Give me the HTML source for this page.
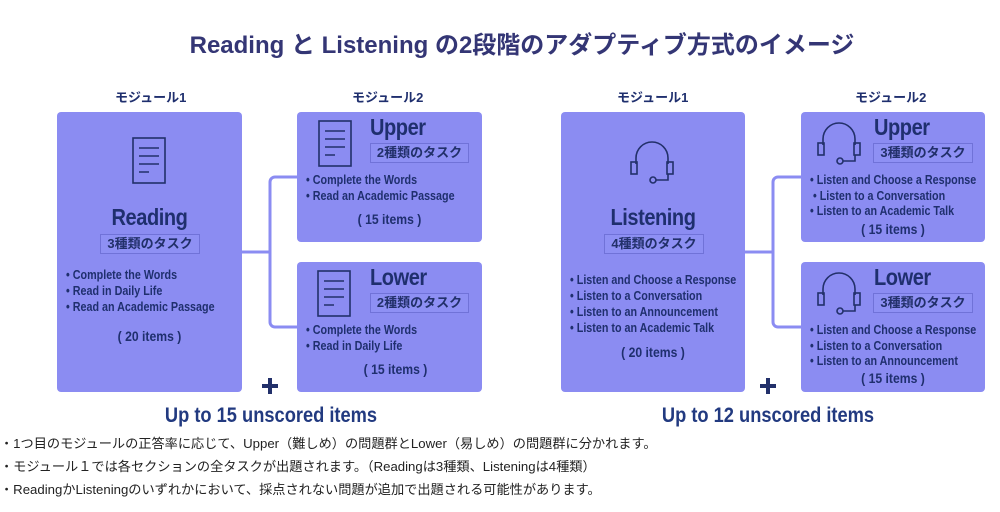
<!DOCTYPE html>
<html><head><meta charset="utf-8"><style>
body{margin:0;width:1000px;height:512px;background:#fff;position:relative;overflow:hidden;font-family:"Liberation Sans","Noto Sans CJK JP",sans-serif;color:#1f2f6e}
.a{position:absolute;white-space:nowrap}
.box{position:absolute;background:#8b8cf2;border-radius:4px}
.n{font-family:"Liberation Sans","Noto Sans CJK JP",sans-serif;font-weight:bold}
.li{font-size:12.5px;line-height:16px;transform:scaleX(0.86);transform-origin:0 0}
.tag{position:absolute;border:1px solid #7072d8;background:#8e90f4;font-family:"Liberation Sans","Noto Sans CJK JP",sans-serif;font-weight:bold;font-size:13px;text-align:center;line-height:18px;color:#22306a}
.h{font-size:23px;letter-spacing:-0.5px;transform:scaleX(0.87);transform-origin:0 0}
.c{text-align:center;transform:scaleX(0.87);transform-origin:50% 0}
.note{font-size:13.2px;color:#222;font-family:"Liberation Sans","Noto Sans CJK JP",sans-serif}
</style></head><body>
<div class="a" style="left:0;width:1044px;top:25px;text-align:center;font-size:24px;font-weight:bold;color:#343675">Reading と Listening の2段階のアダプティブ方式のイメージ</div>

<div class="a n" style="left:115px;top:87px;font-size:13px">モジュール1</div>
<div class="a n" style="left:352px;top:87px;font-size:13px">モジュール2</div>
<div class="a n" style="left:617px;top:87px;font-size:13px">モジュール1</div>
<div class="a n" style="left:855px;top:87px;font-size:13px">モジュール2</div>

<svg class="a" style="left:0;top:0" width="1000" height="512">
<g fill="none" stroke="#8b8cf2" stroke-width="3">
<path d="M242 252H270V182a5 5 0 0 1 5-5H297M270 252V322a5 5 0 0 0 5 5H297"/>
<path d="M745 252H773V182a5 5 0 0 1 5-5H801M773 252V322a5 5 0 0 0 5 5H801"/>
</g>
</svg>

<div class="box" style="left:57px;top:112px;width:185px;height:280px"></div>
<div class="box" style="left:297px;top:112px;width:185px;height:130px"></div>
<div class="box" style="left:297px;top:262px;width:185px;height:130px"></div>
<div class="box" style="left:561px;top:112px;width:184px;height:280px"></div>
<div class="box" style="left:801px;top:112px;width:184px;height:130px"></div>
<div class="box" style="left:801px;top:262px;width:184px;height:130px"></div>

<svg class="a" style="left:0;top:0" width="1000" height="512">
<defs>
<g id="doc" fill="none" stroke="#22306a" stroke-width="1.6"><rect x="0" y="0" width="32" height="45"/><path d="M6 10H26M6 18H26M6 26H26M6 34H16"/></g>
<g id="hp" fill="none" stroke="#22306a" stroke-width="1.6"><path d="M7 26V20a16 16 0 0 1 32 0V26"/><rect x="2" y="24" width="6" height="12"/><rect x="38" y="24" width="6" height="12"/><path d="M39 36V42H27"/><circle cx="24" cy="42" r="3"/></g>
</defs>
<use href="#doc" x="133" y="138"/>
<use href="#doc" x="319" y="121"/>
<use href="#doc" x="318" y="271"/>
<use href="#hp" x="629" y="138"/>
<use href="#hp" x="816" y="119"/>
<use href="#hp" x="816" y="269"/>
<g fill="#22306a"><rect x="262" y="384" width="16" height="4"/><rect x="268" y="378" width="4" height="16"/><rect x="760" y="384" width="16" height="4"/><rect x="766" y="378" width="4" height="16"/></g>
</svg>

<div class="a n c" style="left:57px;width:185px;top:204px;font-size:23px;letter-spacing:-0.5px">Reading</div>
<div class="tag" style="left:100px;top:234px;width:98px">3種類のタスク</div>
<div class="a n li" style="left:66px;top:267px">• Complete the Words<br>• Read in Daily Life<br>• Read an Academic Passage</div>
<div class="a n c" style="left:57px;width:185px;top:328px;font-size:14px">( 20 items )</div>

<div class="a n h" style="left:370px;top:114px">Upper</div>
<div class="tag" style="left:370px;top:143px;width:97px">2種類のタスク</div>
<div class="a n li" style="left:306px;top:172px">• Complete the Words<br>• Read an Academic Passage</div>
<div class="a n c" style="left:297px;width:185px;top:211px;font-size:14px">( 15 items )</div>

<div class="a n h" style="left:370px;top:264px">Lower</div>
<div class="tag" style="left:370px;top:293px;width:97px">2種類のタスク</div>
<div class="a n li" style="left:306px;top:322px">• Complete the Words<br>• Read in Daily Life</div>
<div class="a n c" style="left:303px;width:185px;top:361px;font-size:14px">( 15 items )</div>

<div class="a n c" style="left:561px;width:184px;top:204px;font-size:23px;letter-spacing:-0.5px">Listening</div>
<div class="tag" style="left:604px;top:234px;width:98px">4種類のタスク</div>
<div class="a n li" style="left:570px;top:272px">• Listen and Choose a Response<br>• Listen to a Conversation<br>• Listen to an Announcement<br>• Listen to an Academic Talk</div>
<div class="a n c" style="left:561px;width:184px;top:344px;font-size:14px">( 20 items )</div>

<div class="a n h" style="left:874px;top:114px">Upper</div>
<div class="tag" style="left:873px;top:143px;width:98px">3種類のタスク</div>
<div class="a n li" style="left:810px;top:173px;line-height:15.5px">• Listen and Choose a Response<br>&nbsp;• Listen to a Conversation<br>• Listen to an Academic Talk</div>
<div class="a n c" style="left:801px;width:184px;top:221px;font-size:14px">( 15 items )</div>

<div class="a n h" style="left:874px;top:264px">Lower</div>
<div class="tag" style="left:873px;top:293px;width:98px">3種類のタスク</div>
<div class="a n li" style="left:810px;top:323px;line-height:15.5px">• Listen and Choose a Response<br>• Listen to a Conversation<br>• Listen to an Announcement</div>
<div class="a n c" style="left:801px;width:184px;top:370px;font-size:14px">( 15 items )</div>

<div class="a n c" style="left:121px;width:300px;top:404px;font-size:21px;color:#223a80">Up to 15 unscored items</div>
<div class="a n c" style="left:618px;width:300px;top:404px;font-size:21px;color:#223a80">Up to 12 unscored items</div>

<div class="a note" style="left:0;top:433px">・1つ目のモジュールの正答率に応じて、Upper（難しめ）の問題群とLower（易しめ）の問題群に分かれます。</div>
<div class="a note" style="left:0;top:456px">・モジュール１では各セクションの全タスクが出題されます。（Readingは3種類、Listeningは4種類）</div>
<div class="a note" style="left:0;top:479px">・ReadingかListeningのいずれかにおいて、採点されない問題が追加で出題される可能性があります。</div>
</body></html>
